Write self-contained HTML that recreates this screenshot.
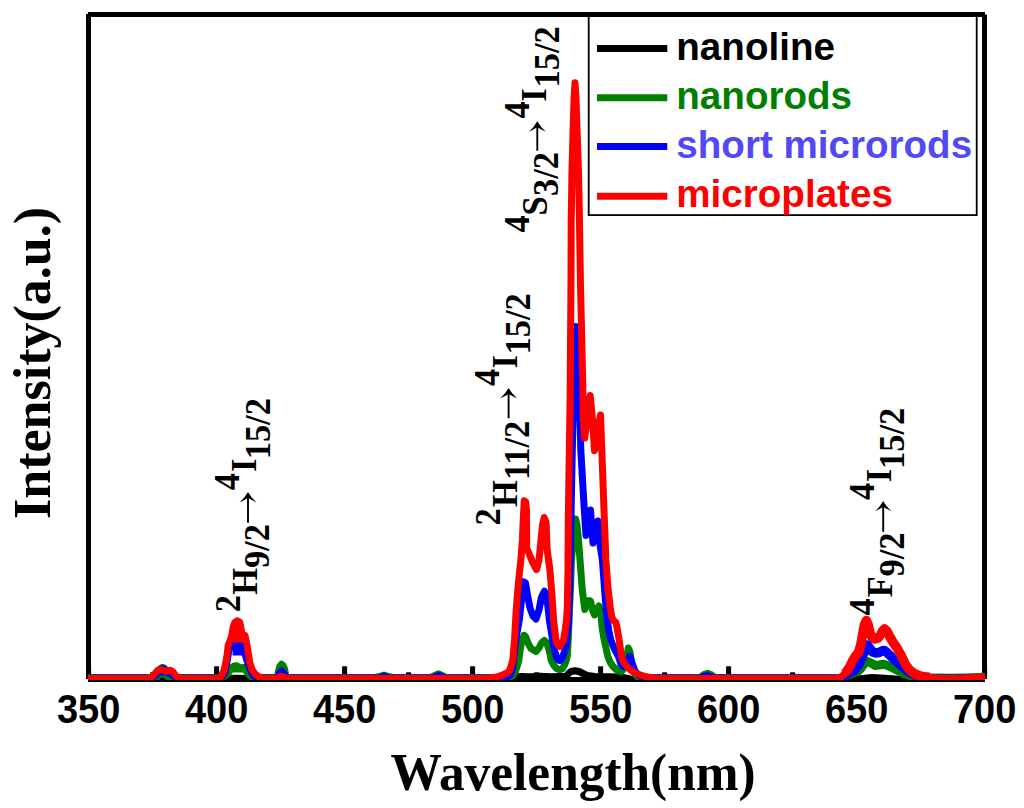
<!DOCTYPE html>
<html><head><meta charset="utf-8"><style>
html,body{margin:0;padding:0;background:#fff;}
svg{display:block;}
.tl{font-family:"Liberation Sans",sans-serif;font-weight:bold;font-size:39px;fill:#000;}
.lg{font-family:"Liberation Sans",sans-serif;font-weight:bold;font-size:38.6px;}
.an{font-family:"Liberation Serif",serif;font-weight:bold;font-size:34.4px;fill:#000;}
.at{font-family:"Liberation Serif",serif;font-weight:bold;font-size:52px;fill:#000;}
</style></head><body>
<svg width="1024" height="808" viewBox="0 0 1024 808">
<rect width="1024" height="808" fill="#fff"/>
<!-- legend box -->
<rect x="588.7" y="14.5" width="388" height="200.6" fill="none" stroke="#000" stroke-width="1.8"/>
<line x1="597" y1="48.4" x2="667.3" y2="48.4" stroke="#000" stroke-width="7"/>
<text x="676.3" y="60" class="lg" fill="#000">nanoline</text>
<line x1="597" y1="97.8" x2="667.3" y2="97.8" stroke="#008000" stroke-width="7"/>
<text x="676.3" y="109" class="lg" fill="#008000">nanorods</text>
<line x1="597" y1="146.6" x2="667.3" y2="146.6" stroke="#0000ff" stroke-width="7"/>
<text x="676.3" y="158" class="lg" fill="#5249f4">short microrods</text>
<line x1="597" y1="196.2" x2="667.3" y2="196.2" stroke="#ff0000" stroke-width="7"/>
<text x="676.3" y="206.5" class="lg" fill="#ff0000">microplates</text>
<!-- frame -->
<line x1="88" y1="14.5" x2="985" y2="14.5" stroke="#000" stroke-width="5"/>
<line x1="88.5" y1="14" x2="88.5" y2="679" stroke="#000" stroke-width="5"/>
<line x1="984.5" y1="14.5" x2="984.5" y2="679" stroke="#000" stroke-width="5"/>
<line x1="88" y1="679.5" x2="985" y2="679.5" stroke="#000" stroke-width="5"/>
<line x1="88.6" y1="666.3" x2="88.6" y2="678" stroke="#000" stroke-width="5"/>
<line x1="152.6" y1="672.3" x2="152.6" y2="678" stroke="#000" stroke-width="5"/>
<line x1="216.6" y1="666.3" x2="216.6" y2="678" stroke="#000" stroke-width="5"/>
<line x1="280.6" y1="672.3" x2="280.6" y2="678" stroke="#000" stroke-width="5"/>
<line x1="344.6" y1="666.3" x2="344.6" y2="678" stroke="#000" stroke-width="5"/>
<line x1="408.6" y1="672.3" x2="408.6" y2="678" stroke="#000" stroke-width="5"/>
<line x1="472.6" y1="666.3" x2="472.6" y2="678" stroke="#000" stroke-width="5"/>
<line x1="536.6" y1="672.3" x2="536.6" y2="678" stroke="#000" stroke-width="5"/>
<line x1="600.6" y1="666.3" x2="600.6" y2="678" stroke="#000" stroke-width="5"/>
<line x1="664.6" y1="672.3" x2="664.6" y2="678" stroke="#000" stroke-width="5"/>
<line x1="728.6" y1="666.3" x2="728.6" y2="678" stroke="#000" stroke-width="5"/>
<line x1="792.6" y1="672.3" x2="792.6" y2="678" stroke="#000" stroke-width="5"/>
<line x1="856.6" y1="666.3" x2="856.6" y2="678" stroke="#000" stroke-width="5"/>
<line x1="920.6" y1="672.3" x2="920.6" y2="678" stroke="#000" stroke-width="5"/>
<line x1="984.6" y1="666.3" x2="984.6" y2="678" stroke="#000" stroke-width="5"/>
<!-- data -->
<defs><clipPath id="pc"><rect x="88" y="17" width="897" height="663"/></clipPath></defs>
<g fill="none" stroke-width="7" stroke-linejoin="round" stroke-linecap="butt" clip-path="url(#pc)">
<polyline stroke="#000" points="88,680 155,680 159,679.6 162.3,679 166,679.7 170,680 225,680 229,678.7 233,678.2 238,678.3 244,678.6 248,679.3 252,680 509,680 513,678.5 516,677.2 520,676.5 530,676.8 540,676.3 550,676.8 560,676.5 566,676.3 568.5,673.5 571,671.5 575,670.8 579,671.5 583,673.5 587,675.5 595,676.5 610,676.8 620,677 628,678.5 634,680 850,680 860,678.7 872,677.5 885,678.3 898,679.2 910,680 985,680"/>
<polyline stroke="#008000" points="88,677.5 150,677.5 155,676 158.5,671.5 161,668 162.8,667.4 164.5,668.3 166.5,671.5 169,673.5 172,675.5 176,677.5 218,677.5 222,677.2 225,676 227.5,674 229.5,671 231.5,668 234,666 236.7,665.8 239,667 241,668.5 243,667.5 244.5,667.5 246,670.5 248,674 251,676.5 255,677.5 375,677.5 380,676.3 384,675.2 388,676.3 393,677.5 431,677.5 435,675.5 438.5,673.8 442,675.5 446,677.5 506,677.5 510,677 513,675.5 515.5,671.5 517.2,666 518.8,660 520.5,648 521.8,641 524,635.3 525.5,636.5 528,643 531,648.5 536,651.5 539,648 541.5,643 544.4,640.5 546.5,642.5 548.5,648 550,654 551.1,660 553.5,665 556.5,668.5 559.7,669.9 562.5,668.5 564.5,665 566,661 567.3,656 568.2,640 568.6,630 569.1,620 569.5,608 570.4,590 571.4,560 572.8,545 574,530 575.6,519 577,525 578.5,540 580,560 582.3,590 584.8,609.5 587,603 589,600.5 590.5,601 592.5,610 594.5,615 597,608.5 598.9,606 601,615 602.4,630 604.2,640 606,648 607.7,656 610,662 613,666.5 617,670 621,671.8 624.5,668 626.5,658 628.3,648 630,652 631.5,662 633.5,672 637,676.5 642,677.5 700,677.5 704,674.5 707.5,673.3 711,674.5 715,677.5 842,677.5 850,675.3 856,673 860.5,669 864,664 867.6,661.5 871,663 875,665.5 879,665 883.7,664.3 887.5,665.5 893,668 899,671 905,674 911,675.8 916,677.5 925,677.5 935,677 950,677.2 965,677 985,676.3"/><polyline stroke="#008000" stroke-width="9" points="856,673 860.5,669 864,664 867.6,661.5 871,663 875,665.5 879,665 883.7,664.3 887.5,665.5 893,668 899,671 905,674 911,675.8 916,677.5"/><polyline stroke="#008000" points="277.5,677.5 278.5,671 280,666 281.5,664.3 283,665.5 284.5,669 285.5,674 286.5,677.5"/>
<polygon fill="#008000" stroke="none" points="230.5,672.5 231.5,667 236.7,664.5 240.5,667 244.1,666.5 246,672.5"/><polygon fill="#008000" stroke="none" points="154.5,680 158,673 162.8,669 167,672.5 171,676 174,680 166,680 162.3,677 159,680"/>
<polyline stroke="#0000ff" points="88,678 150,678 155,676 158.5,672 161,669 163,668.4 165,669.5 167,672 170,673.5 173,675.5 177,678 218,678 220,677.4 222.5,676.5 224.5,673 226,667 227.3,660 228.8,651 230.5,646 232.5,644.5 237,644.5 240.5,645 242.5,646.5 244.5,652 246.8,660 249.3,667 251.5,672.5 254,676 258,678 379,678 384,676.3 389,678 433,678 438.5,675.3 444,678 503,678 507,677 510,675 512.3,670 513.4,660 515.8,640 519.3,620 521.5,600 522.8,588 523.4,581.7 525.5,583 527.5,595 530,608 533,616 536,619 539,610 541.5,597 544.4,591.2 546.5,595 548.3,610 549.3,620 551,630 552.5,640 554.5,650 556.6,657.5 558.5,660.2 559.7,660.6 561.5,659.5 563,656 566.5,645 568.3,625 569.3,600 570.3,560 571.3,500 572.3,450 573.5,400 574.5,360 575.5,326.5 576.5,340 578,360 579.2,385 580.8,450 583.7,500 586,535.5 588.5,520 590.5,510 592,530 593,543 595.5,530 597.9,521 600,545 602.4,560 603.5,575 604.6,590 606,608 607.3,620 608.6,630 610.8,640 614,648 618.3,656 620.9,664 623.5,666.5 626,664 628,659 629.8,656.4 632,663 635,671 639,675.5 645,678 700,678 707,675.3 714,678 843,678 848,675 852.5,672.5 856.5,668 859.6,663 863,655 865.5,648 867.6,645 870,648.5 872.5,652 875.7,653 879,652.5 882,651 884.4,650.5 887,652.5 890.5,656 895,660 900,664.5 905,669 910,672.5 915,675 921,678 985,678"/><polyline stroke="#0000ff" stroke-width="9.5" points="852.5,672.5 856.5,668 859.6,663 863,655 865.5,648 867.6,645 870,648.5 872.5,652 875.7,653 879,652.5 882,651 884.4,650.5 887,652.5 890.5,656 895,660 900,664.5 905,669 910,672.5 915,675 921,678"/><polyline stroke="#0000ff" points="278,678 279.5,673.5 281.5,671 283.5,672.5 285.5,678"/>
<polygon fill="#0000ff" stroke="none" points="232.5,655.5 232.8,645 242.5,645 243,655.5"/><polygon fill="#0000ff" stroke="none" points="156,675.5 159,671.5 163,669.5 167,673 170,675.5"/>
<polyline stroke="#ff0000" points="88,678.4 145,678.4 149.5,678 152.5,676.5 155.5,673 158,670.2 160.5,669.4 163,670.3 166,671.5 168.5,670.5 170.5,670.3 173,672 175.5,675.5 178.5,677.8 182,678.4 212,678.4 218,678.2 220.5,677 222.5,674 224,670 225.5,664 227,655.3 228.3,645 229.8,641.3 231.7,636 233.2,627 234.8,622.5 237.2,620.7 239.5,622 240.6,626 241.8,633.5 244.9,635.2 246,640 247.3,647 248.7,655 249.6,662 252,669.5 255,674 259,676.8 263,678.2 268,678.4 486,678.4 491,678 495,677.3 499,676.3 503,674.8 506.5,673.3 509.3,671 510.8,667 511.8,663.5 512.8,660 514.5,640 516.2,610 517.8,590 519.2,575 520.9,560 522.4,540 523.2,520 524.3,500.8 525.7,502 526.5,510 526.7,548 530,556 533,563 536.5,569.5 539,560 541,540 542.5,525 544.2,517.5 546,522 547.2,550 549.9,570 552,595 553.6,620 555.9,640 557.5,644.5 559.7,646.5 561.5,644 563.5,640 565.2,630 566.5,620 567.3,608 567.6,590 568,570 568.3,520 569.3,450 570.1,400 571,280 571.2,222 571.9,175 573.2,125 574.2,95 575,82.8 575.9,95 576.9,125 578.6,175 579.5,222 580.4,280 582.8,385 583.3,420 584.7,438 587.5,415 590.2,395.5 592.5,420 594.5,450.7 597.5,432 600.5,415 602,455 604,510 605.9,560 607,575 608.2,590 610.3,608 611.8,617 613.5,620.5 615.8,622.5 617,627 617.8,632 619.2,640 620.5,650 621.8,657 623.5,662 626.5,666 630,669.5 634,672.5 639,674.5 645,676.5 652,677.8 660,678.4 836,678.4 841,677 845,673.5 849,668 852.5,661 855.5,656 858.5,652.5 860.5,646 862.5,635 864.5,624.5 866.4,620.5 868.3,625 869.8,632 871.8,637 875,639 878,638 880.5,635 882.5,631 884.4,629 887,631 890,637 893.5,643 897,648 901,655 905.5,664.5 910,670.5 915,674 921,676.3 930,677.5 940,678.4 962,678.2 975,677.6 985,677"/><polyline stroke="#ff0000" stroke-width="9.5" points="845,673.5 849,668 852.5,661 855.5,656 858.5,652.5 860.5,646 862.5,635 864.5,624.5 866.4,620.5 868.3,625 869.8,632 871.8,637 875,639 878,638 880.5,635 882.5,631 884.4,629 887,631 890,637 893.5,643 897,648 901,655 905.5,664.5 910,670.5 915,674 921,676.3 930,677.5"/><polyline stroke="#ff0000" points="277,678.4 279.5,676.8 281.5,676.3 283.5,676.8 286,678.4"/>
<polygon fill="#ff0000" stroke="none" points="231.5,642.5 232.5,628 235,621.5 239.5,621.5 241.5,630 243,642.5"/>
</g>
<text transform="translate(88.6,723.3) scale(0.975,1.063)" text-anchor="middle" class="tl">350</text>
<text transform="translate(216.6,723.3) scale(0.975,1.063)" text-anchor="middle" class="tl">400</text>
<text transform="translate(344.6,723.3) scale(0.975,1.063)" text-anchor="middle" class="tl">450</text>
<text transform="translate(472.6,723.3) scale(0.975,1.063)" text-anchor="middle" class="tl">500</text>
<text transform="translate(600.6,723.3) scale(0.975,1.063)" text-anchor="middle" class="tl">550</text>
<text transform="translate(728.6,723.3) scale(0.975,1.063)" text-anchor="middle" class="tl">600</text>
<text transform="translate(856.6,723.3) scale(0.975,1.063)" text-anchor="middle" class="tl">650</text>
<text transform="translate(984.6,723.3) scale(0.975,1.063)" text-anchor="middle" class="tl">700</text>
<text transform="translate(239.5,612.2) rotate(-90) scale(1,1.065)" class="an">2</text>
<text transform="translate(257.1,594.8) rotate(-90) scale(1,1.065)" class="an">H</text>
<text transform="translate(269.4,568.1) rotate(-90) scale(1,1.065)" class="an">9/2</text>
<text transform="translate(239.1,490.3) rotate(-90) scale(1,1.065)" class="an">4</text>
<text transform="translate(256.2,472.1) rotate(-90) scale(1,1.065)" class="an">I</text>
<text transform="translate(269.8,459.3) rotate(-90) scale(1,1.065)" class="an">15/2</text>
<text transform="translate(499.5,525.4) rotate(-90) scale(1,1.065)" class="an">2</text>
<text transform="translate(517.1,507.0) rotate(-90) scale(1,1.065)" class="an">H</text>
<text transform="translate(529.3,480.0) rotate(-90) scale(1,1.065)" class="an">11/2</text>
<text transform="translate(499.2,386.1) rotate(-90) scale(1,1.065)" class="an">4</text>
<text transform="translate(516.9,368.6) rotate(-90) scale(1,1.065)" class="an">I</text>
<text transform="translate(529.7,354.4) rotate(-90) scale(1,1.065)" class="an">15/2</text>
<text transform="translate(529.1,232.4) rotate(-90) scale(1,1.065)" class="an">4</text>
<text transform="translate(546.5,215.4) rotate(-90) scale(1,1.065)" class="an">S</text>
<text transform="translate(558.0,196.0) rotate(-90) scale(1,1.065)" class="an">3/2</text>
<text transform="translate(528.7,118.4) rotate(-90) scale(1,1.065)" class="an">4</text>
<text transform="translate(545.6,101.8) rotate(-90) scale(1,1.065)" class="an">I</text>
<text transform="translate(559.4,87.5) rotate(-90) scale(1,1.065)" class="an">15/2</text>
<text transform="translate(874.3,615.5) rotate(-90) scale(1,1.065)" class="an">4</text>
<text transform="translate(891.8,597.3) rotate(-90) scale(1,1.065)" class="an">F</text>
<text transform="translate(903.6,576.4) rotate(-90) scale(1,1.065)" class="an">9/2</text>
<text transform="translate(873.9,499.9) rotate(-90) scale(1,1.065)" class="an">4</text>
<text transform="translate(891.0,482.2) rotate(-90) scale(1,1.065)" class="an">I</text>
<text transform="translate(903.7,468.9) rotate(-90) scale(1,1.065)" class="an">15/2</text>
<line x1="248.0" y1="522.7" x2="248.0" y2="495.1" stroke="#000" stroke-width="1.9"/>
<path d="M248.0,492.1 Q245.0,497.6 239.6,502.6 Q245.0,499.6 248.0,498.1 Q251.0,499.6 256.6,502.6 Q251.0,497.6 248.0,492.1Z" fill="#000"/>
<line x1="508.6" y1="418.2" x2="508.6" y2="391.1" stroke="#000" stroke-width="1.9"/>
<path d="M508.6,388.1 Q505.6,393.6 500.2,398.6 Q505.6,395.6 508.6,394.1 Q511.6,395.6 517.2,398.6 Q511.6,393.6 508.6,388.1Z" fill="#000"/>
<line x1="537.3" y1="150.7" x2="537.3" y2="124.3" stroke="#000" stroke-width="1.9"/>
<path d="M537.3,121.3 Q534.3,126.8 528.9,131.8 Q534.3,128.8 537.3,127.3 Q540.3,128.8 545.9,131.8 Q540.3,126.8 537.3,121.3Z" fill="#000"/>
<line x1="883.2" y1="531.8" x2="883.2" y2="504.1" stroke="#000" stroke-width="1.9"/>
<path d="M883.2,501.1 Q880.2,506.6 874.8,511.6 Q880.2,508.6 883.2,507.1 Q886.2,508.6 891.8,511.6 Q886.2,506.6 883.2,501.1Z" fill="#000"/>
<text transform="translate(573,790) scale(0.988,1)" text-anchor="middle" class="at">Wavelength(nm)</text>
<text transform="translate(50,363) rotate(-90)" text-anchor="middle" class="at">Intensity(a.u.)</text>
</svg>
</body></html>
